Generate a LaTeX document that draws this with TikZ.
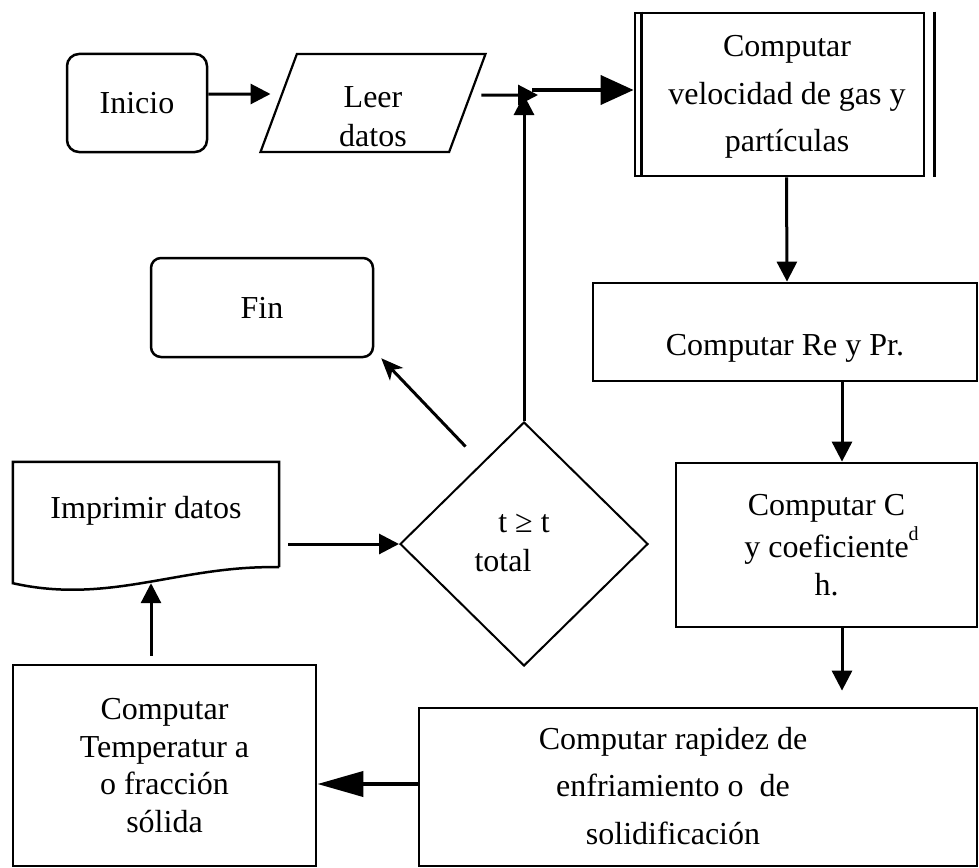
\documentclass[tikz,border=0pt]{standalone}
\usepackage{fontspec}
\setmainfont{Liberation Serif}
\usetikzlibrary{shapes.geometric,arrows.meta,positioning}

\newcommand{\celda}[1]{\begin{tabular}{@{}c@{}}#1\end{tabular}}

\begin{document}
\begin{tikzpicture}[x=1pt, y=-1pt, font=\fontsize{32}{39}\selectfont]
    \tikzstyle{term}=[rectangle, rounded corners=12pt, draw=black, line width=2.5pt]
    \tikzstyle{proc}=[rectangle, draw=black, line width=2.8pt, inner sep=0pt]
    \tikzstyle{io}=[trapezium, trapezium left angle=65, trapezium right angle=115, trapezium stretches body, draw=black, line width=2.2pt, inner sep=0pt]
    \tikzstyle{decision}=[diamond, draw=black, line width=2pt, inner sep=0pt]
    \tikzstyle{connect}=[-{Triangle[length=20pt,width=20pt]}, line width=3pt]
    \tikzstyle{bigconnect}=[-{Triangle[length=33pt,width=29pt]}, line width=4pt]
    \tikzstyle{hugeconnect}=[-{Triangle[length=46pt,width=25pt]}, line width=4pt]
    \tikzstyle{finconnect}=[-{Stealth[length=22pt,width=18pt,inset=6pt]}, line width=3pt]

    \useasboundingbox (0,0) rectangle (979,867);

      \node[term, minimum width=140pt, minimum height=98pt] (inicio) at (137,103) {Inicio};
      \node[io, minimum width=225pt, minimum height=98pt] (leer) at (373,103) {\raisebox{-16pt}[\height][\depth]{\celda{Leer\\datos}}};
      \node[proc, minimum width=289pt, minimum height=163pt, font=\fontsize{32}{47.5}\selectfont] (vel) at (779.5,94.5) {\hspace*{15pt}\celda{Computar\\velocidad de gas y\\partículas}};
      \node[proc, minimum width=384pt, minimum height=98pt] (re) at (785,332) {\raisebox{-16pt}[\height][\depth]{Computar Re y Pr.}};
      \node[proc, minimum width=301pt, minimum height=164pt, font=\fontsize{32}{37.5}\selectfont] (cd) at (826.5,545) {\raisebox{-3pt}[\height][\depth]{\celda{Computar C\\y coeficiente\rlap{\raisebox{17pt}{\fontsize{20}{20}\selectfont d}}\\h.}}};
      \node[decision, minimum width=248pt, minimum height=244pt] (dec) at (524,544) {\celda{t ≥ t\\total\hspace*{42pt}}};
      \node[term, rounded corners=10pt, minimum width=222pt, minimum height=99pt] (fin) at (262,307.5) {Fin};
      \node[minimum width=266pt, minimum height=121pt, inner sep=0pt] (imp) at (146,522.5) {\raisebox{12pt}[\height][\depth]{Imprimir datos}};
      \node[proc, minimum width=303pt, minimum height=201pt, font=\fontsize{32}{37.5}\selectfont] (temp) at (164.5,765.5) {\raisebox{-3pt}[\height][\depth]{\celda{Computar\\Temperatur a\\o fracción\\sólida}}};
      \node[proc, minimum width=558pt, minimum height=158pt, font=\fontsize{32}{47.5}\selectfont] (rap) at (698,787) {\celda{Computar rapidez de\\enfriamiento o\ \ de\\solidificación}\hspace*{50pt}};
      \coordinate (junc) at (538,95);
      \coordinate (salida) at (532,90);

      \draw[line width=2.5pt] ([xshift=8pt]vel.north west) -- ([xshift=8pt]vel.south west);
      \draw[line width=2.5pt] ([xshift=9pt]vel.north east) -- ([xshift=9pt]vel.south east);
      \draw[line width=2.5pt] ([yshift=16pt]imp.south east) -- (imp.north east) -- (imp.north west) -- (imp.south west)
        .. controls (110,605) and (180,565) .. ([yshift=16pt]imp.south east);

      \path
        ([yshift=9pt]inicio.east) edge [connect] ([xshift=-7pt,yshift=9pt]leer.west)
        ([xshift=13pt,yshift=8pt]leer.east) edge [connect] (junc)
        (dec.north) edge [connect] (dec.north |- junc)
        (salida) edge [bigconnect] (salida -| vel.west)
        ([xshift=7pt]vel.south) edge [connect] ([xshift=2pt]re.north)
        ([xshift=57pt]re.south) edge [connect] ([xshift=15.5pt]cd.north)
        ([xshift=15.5pt]cd.south) edge [connect, shorten >=16pt] ([xshift=144pt]rap.north)
        ([yshift=3pt]rap.west) edge [hugeconnect] ([yshift=-18.5pt]temp.east)
        ([xshift=-13.5pt,yshift=8pt]temp.north) edge [connect] ([xshift=5pt]imp.south)
        ([xshift=9pt,yshift=-21.5pt]imp.east) edge [connect] (dec.west)
        ([xshift=4pt,yshift=36pt]dec.north west) edge [finconnect] ([xshift=7pt]fin.south east);
    \end{tikzpicture}
\end{document}
